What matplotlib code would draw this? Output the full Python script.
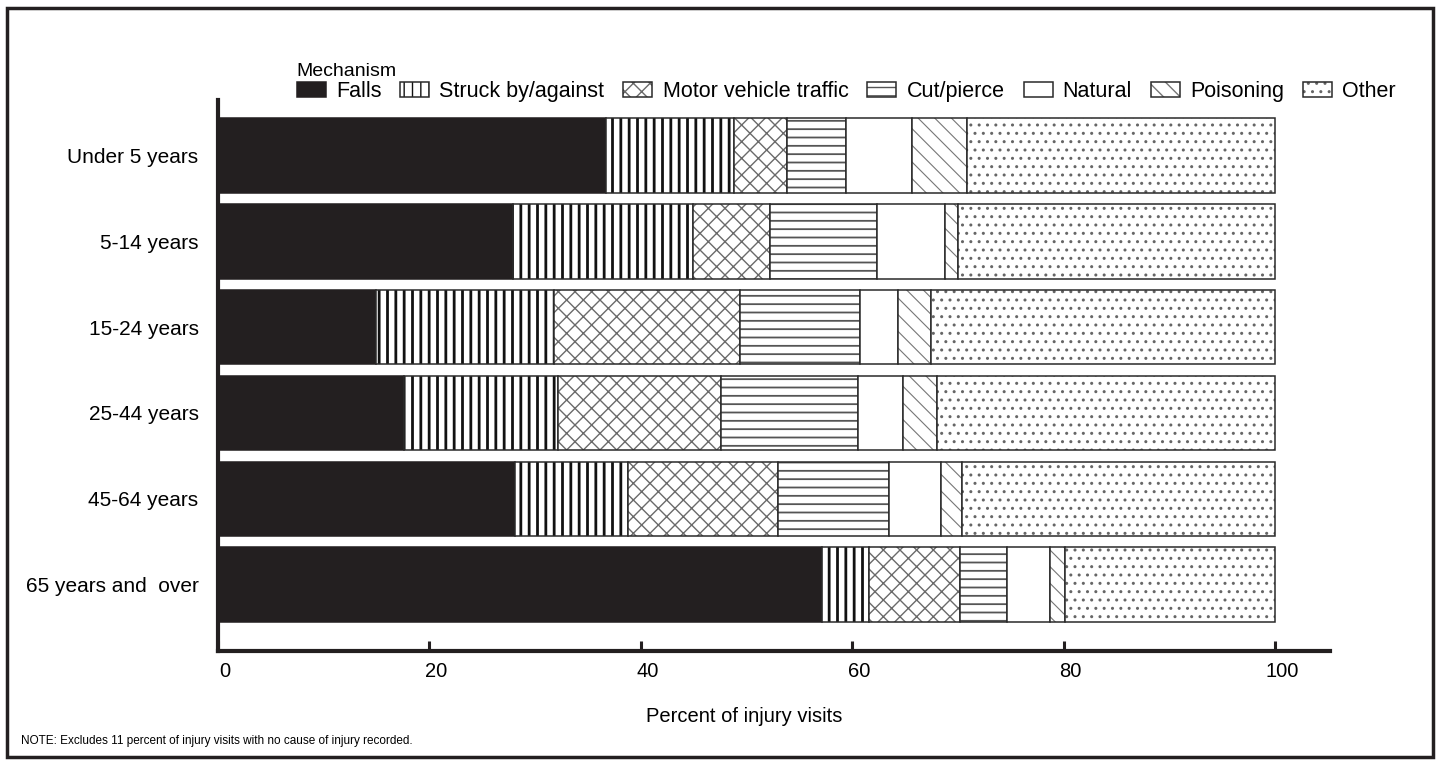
import numpy as np
import matplotlib.pyplot as plt
from matplotlib.patches import Rectangle, Patch
from matplotlib.legend_handler import HandlerTuple
import matplotlib.transforms as mtransforms

plt.rcParams['font.family'] = ['Liberation Sans', 'DejaVu Sans']

ages = ['Under 5 years', '5-14 years', '15-24 years', '25-44 years',
        '45-64 years', '65 years and  over']
mechanisms = ['Falls', 'Struck by/against', 'Motor vehicle traffic',
              'Cut/pierce', 'Natural', 'Poisoning', 'Other']

# percent of injury visits
falls     = [36.7, 27.9, 14.9, 17.6, 28.1, 57.1]
struck    = [12.1, 17.0, 16.9, 14.6, 10.7, 4.5]
motor     = [5.0, 7.3, 17.6, 15.4, 14.2, 8.6]
cut       = [5.6, 10.1, 11.3, 12.9, 10.5, 4.4]
natural   = [6.3, 6.5, 3.6, 4.3, 4.9, 4.1]
poisoning = [5.2, 1.2, 3.2, 3.2, 2.0, 1.4]
other     = [29.1, 30.0, 32.5, 32.0, 29.6, 19.9]

series = [falls, struck, motor, cut, natural, poisoning, other]

# fill, hatch, hatch colour, hatch linewidth
styles = [
    ('#231f20', None, '#231f20', 1.0),
    ('white', '||', '#111111', 2.0),
    ('white', 'xx', '#6a6a6a', 1.0),
    ('white', '--', '#555555', 1.3),
    ('white', None, '#555555', 1.0),
    ('white', '\\\\', '#777777', 0.8),
    ('white', '..', '#666666', 1.0),
]
outline = '#2a2a2a'

fig = plt.figure(figsize=(14.4, 7.65), dpi=100)
ax = fig.add_axes([0.1514, 0.149, 0.7722, 0.72])

y = np.arange(len(ages))
left = np.zeros(len(ages))
handles = []
for vals, (fc, hatch, hc, hlw) in zip(series, styles):
    vals = np.array(vals)
    with plt.rc_context({'hatch.linewidth': hlw}):
        bars = ax.barh(y, vals, left=left, height=0.87, color=fc,
                       edgecolor=hc, linewidth=0, hatch=hatch)
        for b in bars:
            if hasattr(b, 'set_hatch_linewidth'):
                b.set_hatch_linewidth(hlw)
        ax.barh(y, vals, left=left, height=0.87, fill=False,
                edgecolor=outline if fc == 'white' else fc, linewidth=1.1)
        h1 = Patch(facecolor=fc, edgecolor=hc, linewidth=0, hatch=hatch)
        if hasattr(h1, 'set_hatch_linewidth'):
            h1.set_hatch_linewidth(hlw)
        h2 = Patch(fill=False, edgecolor=outline if fc == 'white' else fc,
                   linewidth=1.1)
    handles.append((h1, h2))
    left += vals

ax.set_xlim(0, 105.2)
ax.set_ylim(5.77, -0.64)
ax.set_yticks(y)
ax.set_yticklabels(ages, fontsize=15)
ax.tick_params(axis='y', length=0, pad=14)
ax.set_xticks([0, 20, 40, 60, 80, 100])
ax.tick_params(axis='x', direction='in', length=7, width=2.2,
               labelsize=14.5, pad=8, color='#231f20')
off = mtransforms.ScaledTranslation(5 / 72, 0, fig.dpi_scale_trans)
for lab in ax.get_xticklabels():
    lab.set_transform(lab.get_transform() + off)

for s in ['top', 'right']:
    ax.spines[s].set_visible(False)
for s in ['left', 'bottom']:
    ax.spines[s].set_linewidth(3)
    ax.spines[s].set_color('#231f20')

leg = fig.legend(handles, mechanisms, ncol=7, loc='upper left',
                 bbox_to_anchor=(0.206, 0.894), frameon=False, fontsize=15.5,
                 handlelength=1.35, handleheight=0.65, handletextpad=0.47,
                 columnspacing=0.88, borderpad=0, borderaxespad=0,
                 handler_map={tuple: HandlerTuple(ndivide=1, pad=0)})

fig.text(0.2056, 0.907, 'Mechanism', fontsize=14, va='center', ha='left')
fig.text(0.517, 0.064, 'Percent of injury visits', fontsize=14.5,
         ha='center', va='center')
fig.text(0.0146, 0.031,
         'NOTE: Excludes 11 percent of injury visits with no cause of injury recorded.',
         fontsize=8.5, ha='left', va='center')

fig.patches.append(Rectangle((0.005, 0.01), 0.99, 0.98, transform=fig.transFigure,
                             fill=False, linewidth=2.5, edgecolor='#231f20'))

fig.savefig('out.png', dpi=100)
